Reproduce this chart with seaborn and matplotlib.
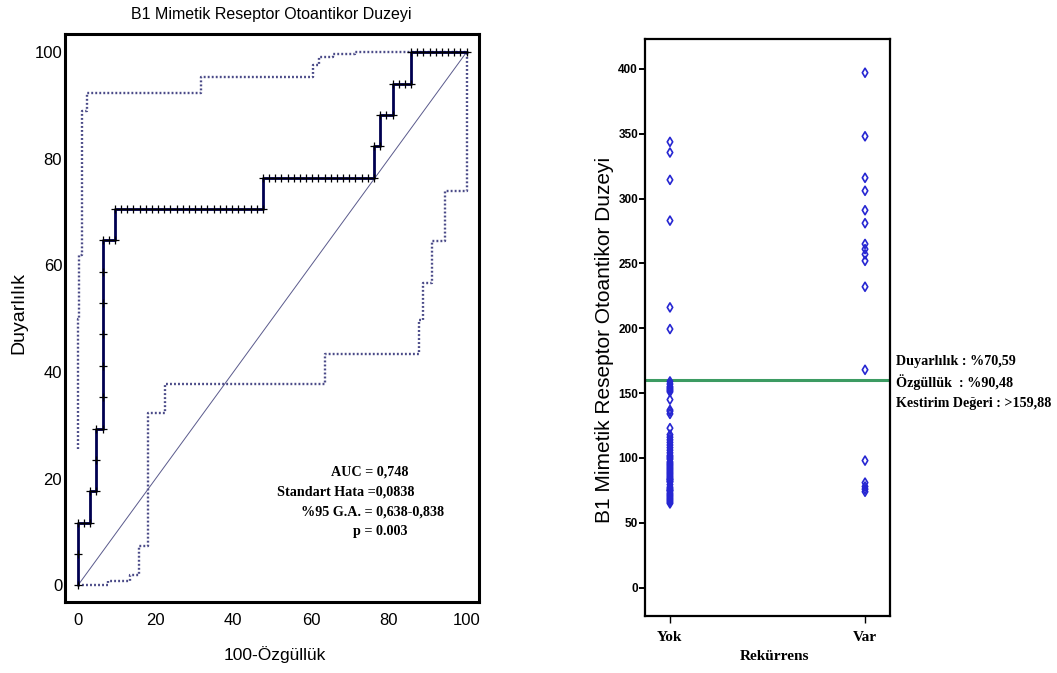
import numpy as np
import pandas as pd
import matplotlib
matplotlib.use("Agg")
import matplotlib.pyplot as plt
import seaborn as sns
from matplotlib.ticker import MultipleLocator

# ---------------- data ----------------
title_left = "B1 Mimetik Reseptor Otoantikor Duzeyi"
groups = ["Yok", "Var"]
yok_values = [343.7, 335.5, 314.4, 283.0, 216.1, 199.4,
              159, 157, 155, 154, 153, 152, 151, 145, 137, 136, 134, 123,
              118, 116, 114, 112, 110, 108, 106, 104, 102, 101, 100, 99,
              97, 96, 95, 94, 93, 92, 91, 90, 89, 88, 87, 86, 85, 84, 83.5, 83, 82, 81.5,
              79.5, 77.5, 76.5, 75.5, 75, 74.5,
              73, 72, 71, 70, 69, 68, 67, 66, 65]
var_values = [397, 348, 316, 306, 291, 281, 265, 261, 257, 252, 232, 168,
              98, 81, 78, 76, 74]
cutoff = 159.88

upper_ci_x = [0, 0, 0.4, 1.2, 2.3, 31.7, 60.6, 62.1, 65.7, 71.3, 100]
upper_ci_y = [25.6, 50, 62, 89, 92.4, 95.4, 97.6, 99.0, 99.6, 100, 100]
lower_ci_x = [0, 7.7, 13.3, 15.7, 18.1, 22.5, 63.6, 87.8, 88.9, 91.2, 94.4, 100]
lower_ci_y = [0, 0.8, 2.0, 7.4, 32.3, 37.7, 43.4, 49.8, 56.8, 64.6, 74.0, 100]

roc_stats = ["AUC = 0,748", "Standart Hata =0,0838", "%95 G.A. = 0,638-0,838", "p = 0.003"]
cut_stats = ["Duyarlılık : %70,59", "Özgüllük  : %90,48", "Kestirim Değeri : >159,88"]

# ---------------- style ----------------
sns.set_style("white")
plt.rcParams["font.family"] = ["Liberation Sans", "DejaVu Sans"]
plt.rcParams["text.color"] = "black"
plt.rcParams["axes.labelcolor"] = "black"
plt.rcParams["xtick.color"] = "black"
plt.rcParams["ytick.color"] = "black"
SERIF = ["Liberation Serif", "DejaVu Serif"]
NAVY = "#000050"
DOT = "#4b4b88"
BLUE = "#2626d2"
GREEN = "#3c9b62"

W, H = 1057, 673
fig = plt.figure(figsize=(W / 100, H / 100), dpi=100)


def fx(px):
    return px / W


def fy(py):
    return 1 - py / H


# ---------------- left: ROC ----------------
ax1 = fig.add_axes([fx(65), fy(602), (479 - 65) / W, (602 - 34) / H])

scores = np.array(yok_values + var_values, dtype=float)
labels = np.array([0] * len(yok_values) + [1] * len(var_values))
order = np.argsort(-scores, kind="stable")
tp = np.cumsum(labels[order] == 1)
fp = np.cumsum(labels[order] == 0)
roc_df = pd.DataFrame({
    "fpr": np.concatenate([[0], fp / len(yok_values) * 100]),
    "tpr": np.concatenate([[0], tp / len(var_values) * 100]),
})

up_df = pd.DataFrame({"x": upper_ci_x, "y": upper_ci_y})
lo_df = pd.DataFrame({"x": lower_ci_x, "y": lower_ci_y})
diag_df = pd.DataFrame({"x": [0, 100], "y": [0, 100]})

for d in (up_df, lo_df):
    sns.lineplot(data=d, x="x", y="y", estimator=None, sort=False,
                 drawstyle="steps-post", color=DOT, linewidth=1.7,
                 linestyle=(0, (0.8, 0.9)), ax=ax1)
sns.lineplot(data=diag_df, x="x", y="y", estimator=None, sort=False,
             color="#5a5a8c", linewidth=0.7, ax=ax1)
sns.lineplot(data=roc_df, x="fpr", y="tpr", estimator=None, sort=False,
             color=NAVY, linewidth=2.0, ax=ax1)
sns.scatterplot(data=roc_df, x="fpr", y="tpr", marker="+", s=40,
                color="black", linewidth=0.9, ax=ax1, zorder=5)

ax1.set_xlim(-3.3, 103.2)
ax1.set_ylim(-3.1, 103.4)
for axis in (ax1.xaxis, ax1.yaxis):
    axis.set_major_locator(MultipleLocator(20))
    axis.set_minor_locator(MultipleLocator(5))
ax1.tick_params(which="major", direction="in", length=8, width=2.2,
                color=NAVY, labelsize=12, labelcolor="black")
ax1.tick_params(which="minor", direction="in", length=4, width=1.3, color=NAVY)
ax1.tick_params(axis="x", which="major", pad=8)
ax1.tick_params(axis="y", which="major", pad=2)
ax1.set_xlabel("")
ax1.set_ylabel("")
for sp in ax1.spines.values():
    sp.set_linewidth(2.2)
    sp.set_color("black")

fig.text(fx(271), fy(15), title_left, ha="center", va="center", fontsize=11.5)
fig.text(fx(275), fy(655), "100-Özgüllük", ha="center", va="center", fontsize=12.5)
fig.text(fx(19), fy(313), "Duyarlılık", ha="center", va="center",
         rotation=90, fontsize=14)

stat_pos = [(370, 472), (346, 492), (373, 512), (380, 532)]
for s, (px, py) in zip(roc_stats, stat_pos):
    fig.text(fx(px), fy(py), s, ha="center", va="center", family=SERIF,
             fontweight="bold", fontsize=10.2)

# ---------------- right: strip plot ----------------
ax2 = fig.add_axes([fx(645), fy(616), (890 - 645) / W, (616 - 39) / H])
strip_df = pd.DataFrame({
    "Rekürrens": ["Yok"] * len(yok_values) + ["Var"] * len(var_values),
    "deger": yok_values + var_values,
})
sns.stripplot(data=strip_df, x="Rekürrens", y="deger", order=groups,
              jitter=False, marker="d", size=4.6, color=BLUE,
              linewidth=1.2, edgecolor=BLUE, ax=ax2)
for c in ax2.collections:
    c.set_facecolor("none")
    c.set_edgecolor(BLUE)

ax2.axhline(cutoff, color=GREEN, linewidth=2.2, zorder=1)
ax2.set_xlim(-0.128, 1.128)
ax2.set_ylim(-21.8, 423)
ax2.yaxis.set_major_locator(MultipleLocator(50))
ax2.set_xticks(range(len(groups)))
ax2.set_xticklabels(groups, family=SERIF, fontweight="bold", fontsize=11)
ax2.tick_params(axis="y", direction="out", length=4, width=1.4,
                labelsize=8.5, pad=1, left=True)
ax2.tick_params(axis="x", direction="out", length=5, width=1.0, pad=6, bottom=True)
plt.setp(ax2.get_yticklabels(), fontweight="bold")
ax2.set_xlabel("")
ax2.set_ylabel("")
for sp in ax2.spines.values():
    sp.set_linewidth(1.6)
    sp.set_color("black")

fig.text(fx(775), fy(656), "Rekürrens", ha="center", va="center", family=SERIF,
         fontweight="bold", fontsize=11)
fig.text(fx(604), fy(340), title_left, ha="center", va="center",
         rotation=90, fontsize=15)
for i, s in enumerate(cut_stats):
    fig.text(fx(896), fy(362 + 20.5 * i), s, ha="left", va="center", family=SERIF,
             fontweight="bold", fontsize=10.2)

fig.savefig("out.png", dpi=100)
